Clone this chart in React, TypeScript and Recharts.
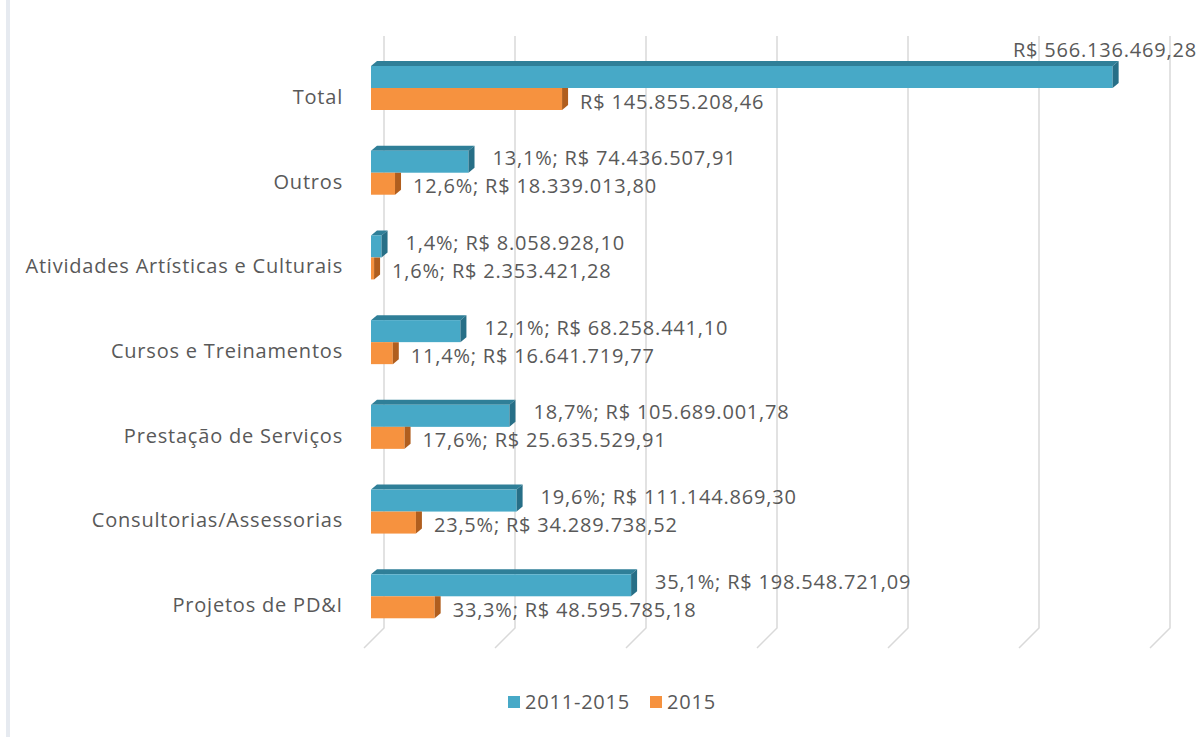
import { BarChart, Bar, XAxis, YAxis, CartesianGrid, Legend, LabelList } from 'recharts';

const categorias = [
  'Total',
  'Outros',
  'Atividades Artísticas e Culturais',
  'Cursos e Treinamentos',
  'Prestação de Serviços',
  'Consultorias/Assessorias',
  'Projetos de PD&I',
];
const valores20112015 = [566136469.28, 74436507.91, 8058928.1, 68258441.1, 105689001.78, 111144869.3, 198548721.09];
const valores2015 = [145855208.46, 18339013.8, 2353421.28, 16641719.77, 25635529.91, 34289738.52, 48595785.18];
const pct20112015 = ['', '13,1%', '1,4%', '12,1%', '18,7%', '19,6%', '35,1%'];
const pct2015 = ['', '12,6%', '1,6%', '11,4%', '17,6%', '23,5%', '33,3%'];
const xTicks = [0, 100000000, 200000000, 300000000, 400000000, 500000000, 600000000];

const data = categorias.map((c, i) => ({
  categoria: c,
  periodo: valores20112015[i],
  ano: valores2015[i],
}));

const FONT = '"Open Sans", sans-serif';
const FS = 20;
const LS = 0.8;
const TEXT = '#595959';
const BLUE = { front: '#47a9c7', top: '#2f7f98', side: '#276f87' };
const ORANGE = { front: '#f6923f', top: '#c8702a', side: '#b05e1e' };
const DX = 6;
const DY = 5;

function reais(v: number) {
  const [int, dec] = v.toFixed(2).split('.');
  return 'R$ ' + int.replace(/\B(?=(\d{3})+(?!\d))/g, '.') + ',' + dec;
}

function Bar3D(props: any) {
  const { x, y, width, height, colors, withTop } = props;
  if (!width || width <= 0) return null;
  const r = x + width;
  return (
    <g>
      {withTop && (
        <polygon
          points={`${x},${y} ${x + DX},${y - DY} ${r + DX},${y - DY} ${r},${y}`}
          fill={colors.top}
        />
      )}
      <rect x={x} y={y} width={width} height={height} fill={colors.front} />
      <polygon
        points={
          withTop
            ? `${r},${y} ${r + DX},${y - DY} ${r + DX},${y + height - DY} ${r},${y + height}`
            : `${r},${y} ${r + DX},${y} ${r + DX},${y + height - DY} ${r},${y + height}`
        }
        fill={colors.side}
      />
    </g>
  );
}

function GridLine(p: any) {
  const { x1, y1, y2 } = p;
  const bx = x1 + 13;
  return (
    <polyline
      key={p.key}
      points={`${bx},${y1 - 10} ${bx},${y2 - 11} ${bx - 20},${y2 + 9}`}
      fill="none"
      stroke="#d9d9d9"
      strokeWidth={1.5}
    />
  );
}

function CategoryTick(p: any) {
  const { y, payload } = p;
  return (
    <text
      x={343}
      y={y + 8}
      textAnchor="end"
      dominantBaseline="central"
      fontFamily={FONT}
      fontSize={FS}
      letterSpacing={LS}
      fill={TEXT}
    >
      {payload.value}
    </text>
  );
}

function makeLabel(pcts: string[], first: boolean) {
  return (p: any) => {
    const { x, y, width, height, index, value } = p;
    const txt = pcts[index] ? `${pcts[index]}; ${reais(value)}` : reais(value);
    if (first && index === 0) {
      return (
        <text
          x={1197}
          y={y - 17}
          textAnchor="end"
          dominantBaseline="central"
          fontFamily={FONT}
          fontSize={FS}
          letterSpacing={LS}
          fill={TEXT}
        >
          {txt}
        </text>
      );
    }
    const tx = x + width + DX + (first ? 18 : 12);
    const ty = y + height / 2 + (first ? -4 : 2);
    return (
      <text x={tx} y={ty} dominantBaseline="central" fontFamily={FONT} fontSize={FS} letterSpacing={LS} fill={TEXT}>
        {txt}
      </text>
    );
  };
}

function LegendContent() {
  const items = [
    { name: '2011-2015', color: BLUE.front },
    { name: '2015', color: ORANGE.front },
  ];
  return (
    <div
      style={{
        display: 'flex',
        justifyContent: 'center',
        gap: 20,
        fontFamily: FONT,
        fontSize: FS,
        letterSpacing: LS,
        color: TEXT,
      }}
    >
      {items.map((it) => (
        <div key={it.name} style={{ display: 'flex', alignItems: 'center', gap: 5 }}>
          <span style={{ display: 'inline-block', width: 12, height: 12, background: it.color }} />
          <span>{it.name}</span>
        </div>
      ))}
    </div>
  );
}

export default function App() {
  return (
    <div style={{ position: 'relative', width: 1198, height: 737, background: '#fff' }}>
      <style>{'body{margin:0}'}</style>
      <div style={{ position: 'absolute', left: 6, top: 0, width: 4, height: 737, background: '#e6eaf0' }} />
      <BarChart
        width={1198}
        height={737}
        data={data}
        layout="vertical"
        margin={{ top: 46, right: 41, bottom: 98, left: 0 }}
        barSize={22}
        barGap={0}
      >
        <CartesianGrid horizontal={false} vertical={GridLine} />
        <XAxis type="number" domain={[0, 600000000]} ticks={xTicks} hide />
        <YAxis
          type="category"
          dataKey="categoria"
          width={371}
          axisLine={false}
          tickLine={false}
          tick={CategoryTick}
          interval={0}
        />
        <Bar
          dataKey="periodo"
          name="2011-2015"
          isAnimationActive={false}
          shape={(p: any) => <Bar3D {...p} colors={BLUE} withTop />}
        >
          <LabelList dataKey="periodo" content={makeLabel(pct20112015, true)} />
        </Bar>
        <Bar
          dataKey="ano"
          name="2015"
          isAnimationActive={false}
          shape={(p: any) => <Bar3D {...p} colors={ORANGE} withTop={false} />}
        >
          <LabelList dataKey="ano" content={makeLabel(pct2015, false)} />
        </Bar>
        <Legend
          layout="horizontal"
          verticalAlign="middle"
          align="center"
          content={LegendContent}
          wrapperStyle={{ top: 688, left: 13, width: 1198 }}
        />
      </BarChart>
    </div>
  );
}
